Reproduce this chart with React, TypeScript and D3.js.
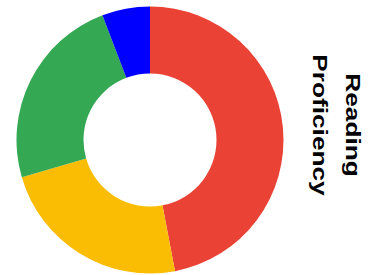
import React, { useEffect, useRef } from 'react';
import * as d3 from 'd3';

// Reading proficiency split
const categories = ['Advanced', 'Proficient', 'Basic', 'Below Basic'];
const values = [47.0, 23.5, 23.7, 5.8];
const colors = ['#ea4335', '#fbbc04', '#34a853', '#0000ff'];
const titleLines = ['Reading', 'Proficiency'];

/* Donut chart with a rotated title on the right */
function DonutChart() {
    const svgRef = useRef<SVGSVGElement>(null);
    const width = 380;
    const height = 275;

    useEffect(() => {
        const svg = d3.select(svgRef.current)
            .attr('width', width)
            .attr('height', height);

        svg.selectAll('*').remove();

        const outerRadius = 133.5;
        const innerRadius = 66.5;

        const g = svg.append('g')
            .attr('transform', `translate(150, 140)`);

        const arcGenerator = d3.arc<d3.PieArcDatum<number>>()
            .innerRadius(innerRadius)
            .outerRadius(outerRadius);

        const pieGenerator = d3.pie<number>()
            .sort(null)
            .value((d) => d);

        g.selectAll('path')
            .data(pieGenerator(values))
            .enter()
            .append('path')
            .attr('d', arcGenerator)
            .attr('data-label', (_, i) => categories[i])
            .style('fill', (_, i) => colors[i]);

        // Title, rotated to read top to bottom
        const title = svg.append('g')
            .attr('transform', 'translate(346, 125) rotate(90) scale(1.28, 1)');

        title.selectAll('text')
            .data(titleLines)
            .enter()
            .append('text')
            .attr('x', 0)
            .attr('y', (_, i) => i * 33)
            .attr('text-anchor', 'middle')
            .style('font-family', '"Liberation Sans", Arial, sans-serif')
            .style('font-weight', 'bold')
            .style('font-size', '20.5px')
            .style('fill', '#000000')
            .text((d) => d);
    }, []);

    return (
        <svg ref={svgRef} style={{ position: 'absolute', left: 0, top: 0, display: 'block' }}></svg>
    );
}

export default function App() {
    return <DonutChart />;
}
